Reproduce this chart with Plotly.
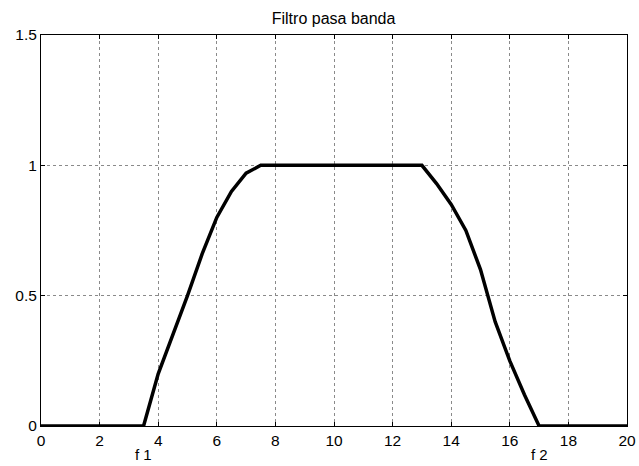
import plotly.graph_objects as go

x_vals = [0, 3.5, 4, 4.5, 5, 5.5, 6, 6.5, 7, 7.5, 13, 13.5, 14, 14.5, 15, 15.5, 16, 16.5, 17, 20]
y_vals = [0, 0, 0.2, 0.35, 0.5, 0.66, 0.8, 0.9, 0.97, 1.0, 1.0, 0.93, 0.85, 0.75, 0.6, 0.4, 0.25, 0.12, 0, 0]
x_ticks = [0, 2, 4, 6, 8, 10, 12, 14, 16, 18, 20]
y_ticks = [0, 0.5, 1, 1.5]
y_tick_text = ["0", "0.5", "1", "1.5"]
marker_labels = ["f 1", "f 2"]
marker_x = [3.5, 17]
title_text = "Filtro pasa banda"

FONT = "Liberation Sans, Arial"

fig = go.Figure()
fig.add_trace(go.Scatter(x=x_vals, y=y_vals, mode="lines",
                         line=dict(color="black", width=3.5), showlegend=False))

for lab, mx in zip(marker_labels, marker_x):
    fig.add_annotation(x=mx, y=-0.074, xref="x", yref="paper", text=lab, showarrow=False,
                       yanchor="middle",
                       font=dict(family=FONT, size=15, color="black"))

axis_common = dict(showline=True, linecolor="black", linewidth=1, mirror="ticks",
                   ticks="inside", ticklen=4, tickcolor="black",
                   showgrid=True, gridcolor="#8a8a8a", gridwidth=1, griddash="dot",
                   zeroline=False, automargin=False,
                   tickfont=dict(family=FONT, size=15.5, color="black"))

fig.update_xaxes(range=[0, 20], tickvals=x_ticks, **axis_common)
fig.update_yaxes(range=[0, 1.5], tickvals=y_ticks, ticktext=y_tick_text, **axis_common)

fig.update_layout(
    width=639, height=466,
    margin=dict(l=41, r=12, t=35, b=40),
    paper_bgcolor="white", plot_bgcolor="white",
    title=dict(text=title_text, x=0.522, xanchor="center", y=0.96, yanchor="middle",
               font=dict(family=FONT, size=16, color="black")),
)

fig.write_html(
    "out.html",
    config={"displayModeBar": False},
    post_script="document.body.style.margin='0';document.body.style.overflow='hidden';",
)
